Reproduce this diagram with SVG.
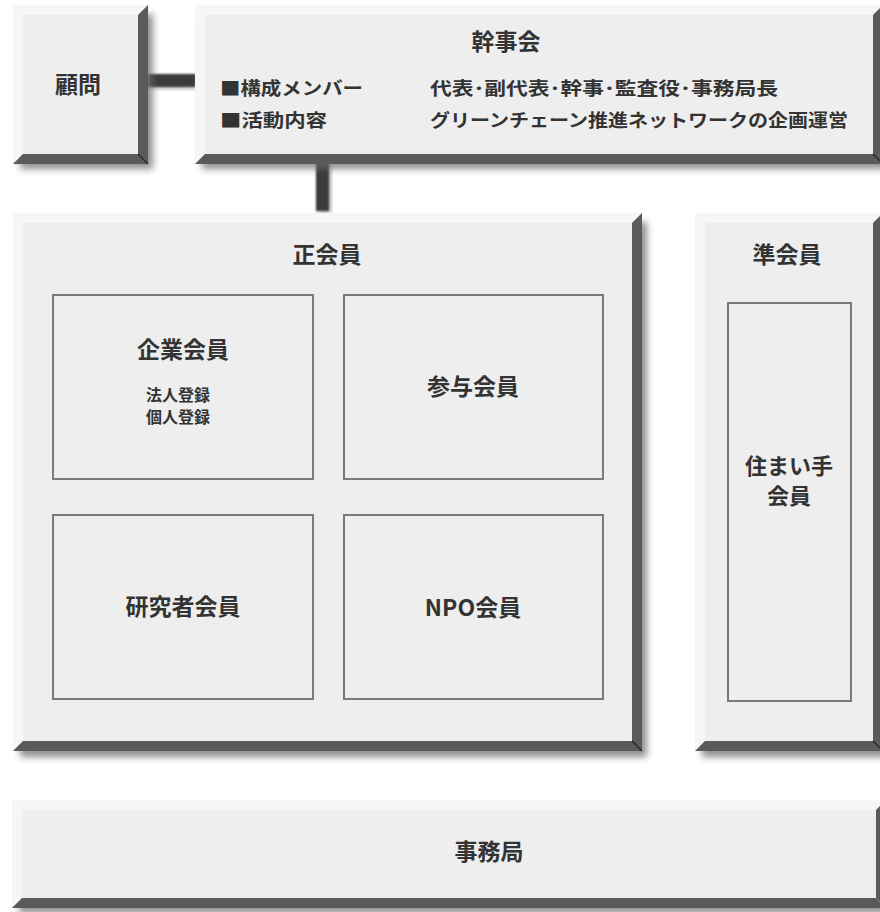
<svg xmlns="http://www.w3.org/2000/svg" width="880" height="912" viewBox="0 0 880 912">
<defs>
<filter id="sh" x="-10%" y="-10%" width="120%" height="130%"><feGaussianBlur stdDeviation="3.5"/></filter>
<filter id="soft" x="-50%" y="-50%" width="200%" height="200%"><feGaussianBlur stdDeviation="0.8"/></filter>
<style>
.face{fill:#eeeeee}
.lt{fill:#f6f6f6}
.dk{fill:#5a5a5a}
.shadow{fill:#6a6a6a;opacity:0.75}
.cl{stroke:#222;stroke-width:1.2}
.inner{fill:none;stroke:#7a7a7a;stroke-width:2}
.bar{fill:#3a3a3a}
text{font-family:"Noto Sans CJK JP","Noto Sans",sans-serif;font-weight:bold;fill:#333;text-anchor:middle}
.t{font-size:23px}
.t2{font-size:22px}
.s{font-size:18px}
.xs{font-size:16px}
.l{text-anchor:start}
</style>
</defs>
<rect width="880" height="912" fill="#ffffff"/>

<g id="connectors">
<rect x="150" y="76" width="48" height="12" fill="#777" filter="url(#sh)" opacity="0.6"/>
<rect class="bar" x="148" y="74" width="48" height="13" filter="url(#soft)"/>
<rect x="318" y="165" width="13" height="48" fill="#777" filter="url(#sh)" opacity="0.6"/>
<rect class="bar" x="316" y="160" width="13" height="51" filter="url(#soft)"/>
</g>

<g id="komon">
<rect class="shadow" x="20" y="14" width="133" height="155" filter="url(#sh)"/>
<rect class="face" x="13" y="5" width="135" height="159"/>
<polygon class="lt" points="13,5 148,5 138,15 23,15"/>
<polygon class="lt" points="13,5 23,15 23,154 13,164"/>
<polygon class="dk" points="148,5 148,164 138,154 138,15"/>
<polygon class="dk" points="13,164 148,164 138,154 23,154"/>
<line class="cl" x1="138" y1="154" x2="148" y2="164"/>
<text class="t" x="78" y="93">顧問</text>
</g>

<g id="kanjikai">
<rect class="shadow" x="202" y="14" width="686" height="155" filter="url(#sh)"/>
<rect class="face" x="195" y="5" width="688" height="159"/>
<polygon class="lt" points="195,5 883,5 873,15 205,15"/>
<polygon class="lt" points="195,5 205,15 205,154 195,164"/>
<polygon class="dk" points="883,5 883,164 873,154 873,15"/>
<polygon class="dk" points="195,164 883,164 873,154 205,154"/>
<line class="cl" x1="873" y1="154" x2="883" y2="164"/>
<text class="t" x="506" y="50">幹事会</text>
<text class="s l" x="220" y="95" textLength="143" lengthAdjust="spacingAndGlyphs">■構成メンバー</text>
<text class="s l" x="220" y="127" textLength="107" lengthAdjust="spacingAndGlyphs">■活動内容</text>
<text class="s l" x="430" y="95" textLength="348" lengthAdjust="spacingAndGlyphs">代表･副代表･幹事･監査役･事務局長</text>
<text class="s l" x="430" y="127" textLength="418" lengthAdjust="spacingAndGlyphs">グリーンチェーン推進ネットワークの企画運営</text>
</g>

<g id="seikaiin">
<rect class="shadow" x="20" y="222" width="627" height="535" filter="url(#sh)"/>
<rect class="face" x="13" y="213" width="629" height="538"/>
<polygon class="lt" points="13,213 642,213 632,223 23,223"/>
<polygon class="lt" points="13,213 23,223 23,741 13,751"/>
<polygon class="dk" points="642,213 642,751 632,741 632,223"/>
<polygon class="dk" points="13,751 642,751 632,741 23,741"/>
<line class="cl" x1="632" y1="741" x2="642" y2="751"/>
<text class="t" x="327" y="263">正会員</text>
</g>

<g id="kigyo">
<rect class="inner" x="53" y="295" width="260" height="184"/>
<text class="t" x="183" y="358">企業会員</text>
<text class="xs" x="178" y="401">法人登録</text>
<text class="xs" x="178" y="423">個人登録</text>
</g>

<g id="sanyo">
<rect class="inner" x="344" y="295" width="259" height="184"/>
<text class="t" x="473" y="395">参与会員</text>
</g>

<g id="kenkyusha">
<rect class="inner" x="53" y="515" width="260" height="184"/>
<text class="t" x="183" y="615">研究者会員</text>
</g>

<g id="npo">
<rect class="inner" x="344" y="515" width="259" height="184"/>
<text class="t" x="473" y="616">NPO会員</text>
</g>

<g id="junkaiin">
<rect class="shadow" x="702" y="222" width="186" height="535" filter="url(#sh)"/>
<rect class="face" x="695" y="213" width="188" height="538"/>
<polygon class="lt" points="695,213 883,213 873,223 705,223"/>
<polygon class="lt" points="695,213 705,223 705,741 695,751"/>
<polygon class="dk" points="883,213 883,751 873,741 873,223"/>
<polygon class="dk" points="695,751 883,751 873,741 705,741"/>
<line class="cl" x1="873" y1="741" x2="883" y2="751"/>
<text class="t" x="787" y="263">準会員</text>
</g>

<g id="sumaite">
<rect class="inner" x="728" y="303" width="123" height="398"/>
<text class="t2" x="789" y="474">住まい手</text>
<text class="t2" x="789" y="504">会員</text>
</g>

<g id="jimukyoku">
<rect class="shadow" x="19" y="809" width="872" height="104" filter="url(#sh)"/>
<rect class="face" x="12" y="800" width="874" height="108"/>
<polygon class="lt" points="12,800 886,800 876,810 22,810"/>
<polygon class="lt" points="12,800 22,810 22,898 12,908"/>
<polygon class="dk" points="886,800 886,908 876,898 876,810"/>
<polygon class="dk" points="12,908 886,908 876,898 22,898"/>
<text class="t" x="489" y="860">事務局</text>
</g>
</svg>
